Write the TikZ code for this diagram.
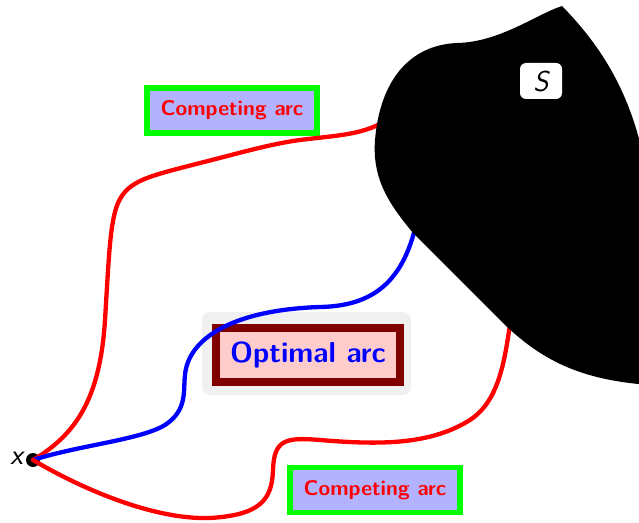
\documentclass[tikz,border=0pt]{standalone}
\usepackage{fontspec}
\begin{document}
\begin{tikzpicture}[x=1bp,y=-1bp,
  arc/.style={line width=4.3bp,line cap=round},
  compbox/.style={draw=green,fill=blue!30,line width=5.5bp,minimum width=170bp,minimum height=45bp,
    text=red,font=\sffamily\bfseries\fontsize{21.3}{25}\selectfont,inner sep=0pt},
  optbox/.style={draw=red!50!black,fill=red!20,line width=8bp,minimum width=184bp,minimum height=54bp,
    text=blue,font=\sffamily\bfseries\fontsize{29}{33}\selectfont,inner sep=0pt},
  bgbox/.style={fill=gray!12,rounded corners=8bp,minimum width=209bp,minimum height=83bp,inner sep=0pt},
  lab/.style={font=\sffamily\itshape\fontsize{29}{33}\selectfont,inner sep=0pt}]
\useasboundingbox (0,0) rectangle (639,523);
\clip (0,0) rectangle (639,523);
% labels
\node[bgbox] (bg) at (306.5,353.5) {};
\node[optbox] (opt) at (308,355) {Optimal arc};
\node[compbox] (c1) at (232,110.5) {Competing arc};
\node[compbox] (c2) at (375,490) {Competing arc};
% start point
\node[circle,fill=black,minimum size=14bp,inner sep=0pt] (X) at (33,460) {};
\node[lab,anchor=east] (xl) at (23,458) {x};
\coordinate (e1) at (390,118);
\coordinate (e2) at (418,215);
\coordinate (e3) at (512,310);
% arcs
\draw[arc,red] (X.center) .. controls (75,435) and (100,400) .. (105,320)
  .. controls (109,255) and (110,222) .. (118,203)
  .. controls (128,180) and (150,176) .. (200,163)
  .. controls (240,153) and (270,144) .. (300,140)
  .. controls (340,135) and (365,135) .. (e1);
\draw[arc,blue] (X.center) .. controls (80,445) and (140,440) .. (165,425)
  .. controls (188,410) and (183,390) .. (185,375)
  .. controls (188,340) and (230,310) .. (320,307)
  .. controls (370,306) and (405,285) .. (e2);
\draw[arc,red] (X.center) .. controls (75,485) and (150,520) .. (210,518)
  .. controls (260,515) and (272,500) .. (273,470)
  .. controls (274,440) and (285,437) .. (320,440)
  .. controls (380,445) and (430,445) .. (470,420)
  .. controls (500,400) and (505,360) .. (e3);
% set S
\fill[black] (562,6) .. controls (535,15) and (500,42) .. (457,43)
  .. controls (410,45) and (380,80) .. (375,140)
  .. controls (372,180) and (390,205) .. (413,233)
  -- (500,320) .. controls (540,360) and (580,380) .. (650,385)
  -- (700,385) -- (700,200) -- (650,200)
  .. controls (640,100) and (600,45) .. (562,6) -- cycle;
\node[fill=white,rounded corners=6bp,minimum width=42bp,minimum height=36bp,lab] (S) at (541,81) {S};
\end{tikzpicture}
\end{document}
